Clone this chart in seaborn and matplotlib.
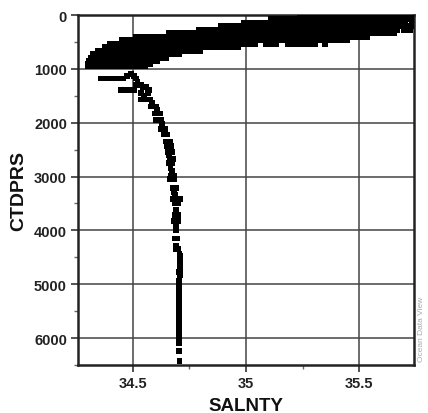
import matplotlib
matplotlib.use("Agg")
import matplotlib.pyplot as plt
import seaborn as sns
import pandas as pd
from matplotlib.ticker import MultipleLocator

# ---- upper, dense band: pressure levels (dbar) and salinities at each level ----
band_p = [15, 45, 80, 145, 210, 275, 340, 405, 470, 535, 600, 665, 730, 795, 855, 910, 955]
band_s = [
    [35.41, 35.43, 35.455, 35.48, 35.50, 35.525, 35.55, 35.57, 35.595, 35.62, 35.64, 35.665, 35.69, 35.71, 35.735],
    [35.24, 35.265, 35.29, 35.315, 35.34, 35.365, 35.39],
    [35.11, 35.135, 35.16, 35.18, 35.205, 35.23, 35.255, 35.28, 35.30, 35.325, 35.35, 35.375, 35.40, 35.42,
     35.445, 35.47, 35.495, 35.52, 35.54, 35.565, 35.59, 35.615, 35.64, 35.66, 35.685, 35.71, 35.735],
    [34.99, 35.015, 35.04, 35.06, 35.085, 35.11, 35.135, 35.155, 35.18, 35.205, 35.23, 35.25, 35.275, 35.30,
     35.325, 35.345, 35.37, 35.395, 35.42, 35.44, 35.465, 35.49, 35.515, 35.535, 35.56, 35.585, 35.61, 35.63,
     35.655, 35.68, 35.705, 35.735],
    [34.89, 34.915, 34.94, 34.96, 34.985, 35.01, 35.035, 35.055, 35.08, 35.105, 35.13, 35.15, 35.175, 35.20,
     35.225, 35.245, 35.27, 35.295, 35.32, 35.34, 35.365, 35.39, 35.415, 35.435, 35.46, 35.485, 35.51, 35.53,
     35.555, 35.58, 35.605, 35.625, 35.65, 35.675, 35.70, 35.725, 35.74],
    [34.79, 34.815, 34.84, 34.86, 34.885, 34.91, 34.935, 34.955, 34.98, 35.005, 35.03, 35.05, 35.075, 35.10,
     35.125, 35.145, 35.17, 35.195, 35.22, 35.24, 35.265, 35.29, 35.315, 35.335, 35.36, 35.385, 35.41, 35.43,
     35.455, 35.48, 35.505, 35.525, 35.55, 35.575, 35.60, 35.62, 35.645, 35.67, 35.70, 35.725],
    [34.66, 34.685, 34.71, 34.73, 34.755, 34.78, 34.805, 34.825, 34.85, 34.875, 34.90, 34.92, 34.945, 34.97,
     34.995, 35.015, 35.04, 35.065, 35.09, 35.11, 35.135, 35.16, 35.185, 35.205, 35.23, 35.255, 35.28, 35.30,
     35.325, 35.35, 35.375, 35.395, 35.42, 35.445, 35.47, 35.49, 35.515, 35.54, 35.565, 35.585, 35.61, 35.635,
     35.655],
    [34.515, 34.54, 34.56, 34.585, 34.61, 34.635, 34.655, 34.68, 34.705, 34.73, 34.75, 34.775, 34.80, 34.825,
     34.845, 34.87, 34.895, 34.92, 34.94, 34.965, 34.99, 35.015, 35.035, 35.06, 35.085, 35.11, 35.13, 35.155,
     35.18, 35.205, 35.225, 35.25, 35.275, 35.30, 35.32, 35.345, 35.37, 35.395, 35.415, 35.44, 35.465, 35.49,
     35.51, 35.535],
    [34.45, 34.475, 34.495, 34.52, 34.545, 34.57, 34.59, 34.615, 34.64, 34.665, 34.685, 34.71, 34.735, 34.76,
     34.78, 34.805, 34.83, 34.855, 34.875, 34.90, 34.925, 34.95, 34.97, 34.995, 35.02, 35.045, 35.065, 35.09,
     35.115, 35.14, 35.16, 35.185, 35.21, 35.235, 35.255, 35.28, 35.305, 35.33, 35.35, 35.375, 35.40, 35.425,
     35.445],
    [34.40, 34.425, 34.45, 34.47, 34.495, 34.52, 34.545, 34.565, 34.59, 34.615, 34.64, 34.66, 34.685, 34.71,
     34.735, 34.755, 34.78, 34.805, 34.83, 34.85, 34.875, 34.90, 34.925, 34.945, 34.97, 34.995, 35.02, 35.04,
     35.09, 35.115, 35.135, 35.185, 35.21, 35.23, 35.255, 35.28, 35.305, 35.35],
    [34.375, 34.40, 34.42, 34.445, 34.47, 34.495, 34.515, 34.54, 34.565, 34.59, 34.61, 34.635, 34.66, 34.685,
     34.705, 34.73, 34.755, 34.78, 34.80, 34.825, 34.85, 34.875, 34.895, 34.92, 34.945, 34.965],
    [34.345, 34.37, 34.39, 34.415, 34.44, 34.465, 34.485, 34.51, 34.535, 34.56, 34.58, 34.605, 34.63, 34.655,
     34.675, 34.70, 34.725, 34.75, 34.77, 34.795],
    [34.325, 34.35, 34.37, 34.395, 34.42, 34.445, 34.465, 34.49, 34.515, 34.54, 34.56, 34.585, 34.61, 34.635,
     34.655, 34.68, 34.705],
    [34.315, 34.34, 34.36, 34.385, 34.41, 34.435, 34.455, 34.48, 34.505, 34.53, 34.55, 34.575, 34.60, 34.62,
     34.645],
    [34.305, 34.33, 34.35, 34.375, 34.40, 34.425, 34.445, 34.47, 34.495, 34.52, 34.54, 34.565, 34.59, 34.605],
    [34.30, 34.325, 34.345, 34.37, 34.395, 34.42, 34.44, 34.465, 34.49, 34.515, 34.535, 34.56, 34.575],
    [34.30, 34.325, 34.345, 34.37, 34.395, 34.42, 34.44, 34.465, 34.49, 34.515, 34.535, 34.555],
]

# ---- deep water: pressure levels (dbar) and salinities at each level ----
deep_p = [1100, 1130, 1180, 1240, 1300, 1340, 1390, 1450, 1500, 1570, 1640, 1700, 1770, 1830, 1945, 2030,
          2110, 2220, 2350, 2430, 2540, 2600, 2670, 2750, 2850, 2900, 2980, 3040, 3220, 3290, 3350, 3420,
          3500, 3620, 3720, 3780, 3830, 3930, 4000, 4150, 4280, 4350,
          4430, 4480, 4530, 4585, 4630, 4680, 4735, 4780, 4830, 4885, 4930, 4980, 5035, 5080, 5130, 5185,
          5230, 5280, 5335, 5380, 5430, 5485, 5530, 5580, 5635, 5680, 5730, 5785, 5830, 5880, 5935, 5980,
          6030, 6090, 6240, 6430]
deep_s = [
    [34.49], [34.475, 34.505], [34.357, 34.378, 34.40, 34.42, 34.437, 34.455, 34.515], [34.52],
    [34.515, 34.535], [34.545, 34.56], [34.447, 34.468, 34.488, 34.505, 34.57], [34.535, 34.565],
    [34.55], [34.535, 34.555, 34.575], [34.585], [34.58, 34.60], [34.605], [34.598, 34.618],
    [34.602, 34.625], [34.63], [34.622, 34.642], [34.638, 34.652], [34.645, 34.665], [34.652, 34.667],
    [34.655, 34.672], [34.66], [34.662, 34.677], [34.658, 34.672], [34.666], [34.672], [34.667, 34.682],
    [34.662, 34.68], [34.676, 34.692], [34.682], [34.686], [34.676, 34.695, 34.71], [34.686, 34.70],
    [34.692], [34.686, 34.70], [34.692], [34.682, 34.70], [34.69], [34.692], [34.686, 34.697], [34.692],
    [34.692, 34.70],
    [34.706], [34.708], [34.710], [34.707], [34.709], [34.706], [34.708], [34.705], [34.707], [34.706],
    [34.704], [34.706], [34.705], [34.703], [34.705], [34.704], [34.702], [34.704], [34.703], [34.705],
    [34.703], [34.702], [34.704], [34.703], [34.705], [34.703], [34.704], [34.702], [34.704], [34.703],
    [34.704], [34.703], [34.705], [34.705], [34.705], [34.706],
]

x_ticks = [34.5, 35.0, 35.5]
x_tick_labels = ["34.5", "35", "35.5"]
y_ticks = [0, 1000, 2000, 3000, 4000, 5000, 6000]
y_tick_labels = ["0", "1000", "2000", "3000", "4000", "5000", "6000"]

records = []
for p, ss in zip(band_p + deep_p, band_s + deep_s):
    for s in ss:
        records.append((s, p))
df = pd.DataFrame(records, columns=["SALNTY", "CTDPRS"])

sns.set_theme(style="white")
plt.rcParams['font.family'] = ['Liberation Sans', 'DejaVu Sans']

fig = plt.figure(figsize=(4.28, 4.14), dpi=100)
ax = fig.add_axes([78 / 428, 1 - 366 / 414, 336 / 428, 350 / 414])

sns.scatterplot(data=df, x="SALNTY", y="CTDPRS", marker='s', s=18, color='black',
                linewidth=0, edgecolor='none', ax=ax, legend=False, zorder=3)

ax.set_xlim(34.257, 35.743)
ax.set_ylim(6500, 0)
ax.set_xticks(x_ticks)
ax.set_xticklabels(x_tick_labels)
ax.set_yticks(y_ticks)
ax.set_yticklabels(y_tick_labels)
ax.xaxis.set_minor_locator(MultipleLocator(0.25))
ax.yaxis.set_minor_locator(MultipleLocator(500))

ax.grid(True, which='major', color='#444444', linewidth=1.1)
ax.set_axisbelow(True)
ax.tick_params(which='both', bottom=True, left=True, top=False, right=False, direction='out')
ax.tick_params(which='major', length=5, width=1.2, color='#333333', labelsize=10.5,
               labelcolor='#222222', pad=3)
ax.tick_params(which='minor', length=3, width=1.0, color='#666666')
for lab in ax.get_xticklabels() + ax.get_yticklabels():
    lab.set_fontweight('bold')
for sp in ax.spines.values():
    sp.set_linewidth(1.8)
    sp.set_color('#222222')

ax.set_xlabel("SALNTY", fontsize=13.5, fontweight='bold', color='#111111', labelpad=5)
ax.set_ylabel("CTDPRS", fontsize=14, fontweight='bold', color='#111111', labelpad=5)

fig.text(0.985, 0.205, "Ocean Data View", rotation=90, fontsize=6, color='#aaaaaa',
         ha='center', va='center')

fig.savefig("out.png", dpi=100, facecolor='white')
